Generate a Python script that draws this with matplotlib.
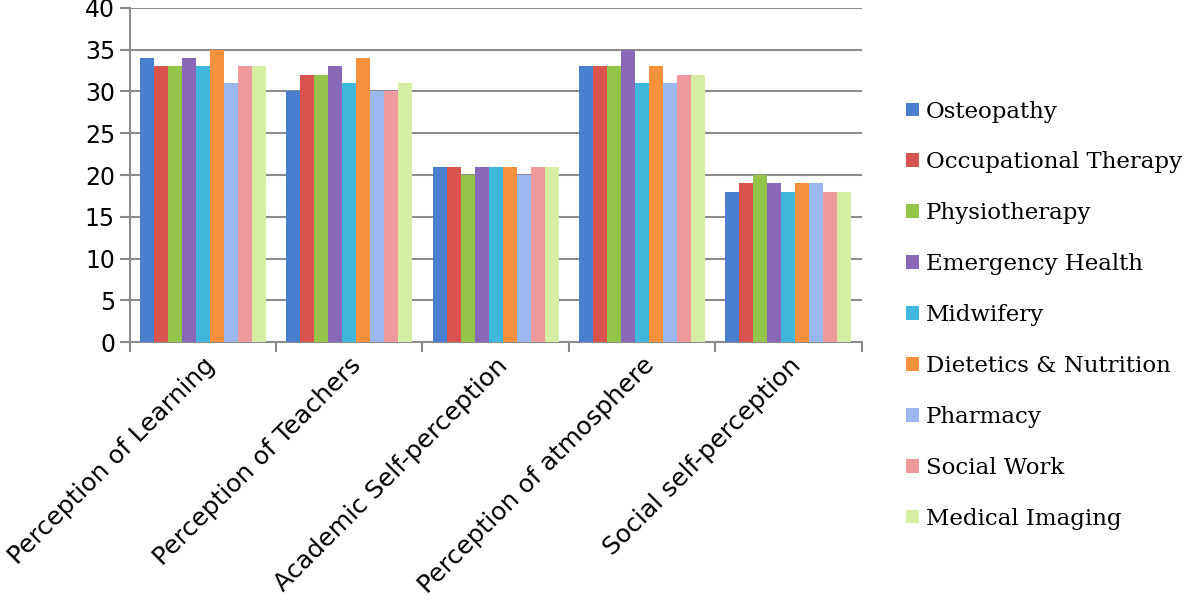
import matplotlib.pyplot as plt
import numpy as np

categories = ["Perception of Learning", "Perception of Teachers", "Academic Self-perception",
              "Perception of atmosphere", "Social self-perception"]
programs = ["Osteopathy", "Occupational Therapy", "Physiotherapy", "Emergency Health",
            "Midwifery", "Dietetics & Nutrition", "Pharmacy", "Social Work", "Medical Imaging"]

osteopathy = [34, 30, 21, 33, 18]
occupational = [33, 32, 21, 33, 19]
physio = [33, 32, 20, 33, 20]
emergency = [34, 33, 21, 35, 19]
midwifery = [33, 31, 21, 31, 18]
dietetics = [35, 34, 21, 33, 19]
pharmacy = [31, 30, 20, 31, 19]
social_work = [33, 30, 21, 32, 18]
imaging = [33, 31, 21, 32, 18]

series = [osteopathy, occupational, physio, emergency, midwifery,
          dietetics, pharmacy, social_work, imaging]
colors = ["#4a7fd0", "#d9534f", "#94c44a", "#8a68b8", "#3fb6dc",
          "#f7913d", "#9bb8ee", "#ee9a9c", "#d6eea4"]

fig = plt.figure(figsize=(12, 6.13), dpi=100)
ax = fig.add_axes([0.108, 0.442, 0.61, 0.545])

n = len(series)
group_w = 0.86
w = group_w / n
x = np.arange(len(categories)) + 0.5
for i, (vals, c) in enumerate(zip(series, colors)):
    ax.bar(x - group_w / 2 + (i + 0.5) * w, vals, width=w, color=c,
           label=programs[i], zorder=3)

ax.set_xlim(0, len(categories))
ax.set_ylim(0, 40)
ax.set_yticks(range(0, 41, 5))
ax.set_xticks(range(len(categories) + 1))
ax.set_xticklabels([])
ax.set_xticks(x, minor=True)
ax.set_xticklabels(categories, minor=True, rotation=45, ha="right",
                   va="top", rotation_mode="anchor", fontsize=18)
ax.tick_params(axis="x", which="minor", length=0, pad=8)
ax.tick_params(axis="x", which="major", length=7, color="#888888", width=1.5)
ax.tick_params(axis="y", length=7, color="#888888", width=1.5, labelsize=17)

ax.grid(axis="y", color="#8c8c8c", linewidth=1.5, zorder=0)
for s in ["top", "right"]:
    ax.spines[s].set_visible(False)
for s in ["left", "bottom"]:
    ax.spines[s].set_color("#8c8c8c")
    ax.spines[s].set_linewidth(1.5)

leg = ax.legend(loc="center left", bbox_to_anchor=(0.742, 0.486),
                bbox_transform=fig.transFigure, frameon=False,
                prop={"family": "DejaVu Serif", "size": 16.5},
                handlelength=0.55, handleheight=0.55, handletextpad=0.3,
                labelspacing=1.26, borderpad=0.2)

fig.savefig("out.png", dpi=100)
